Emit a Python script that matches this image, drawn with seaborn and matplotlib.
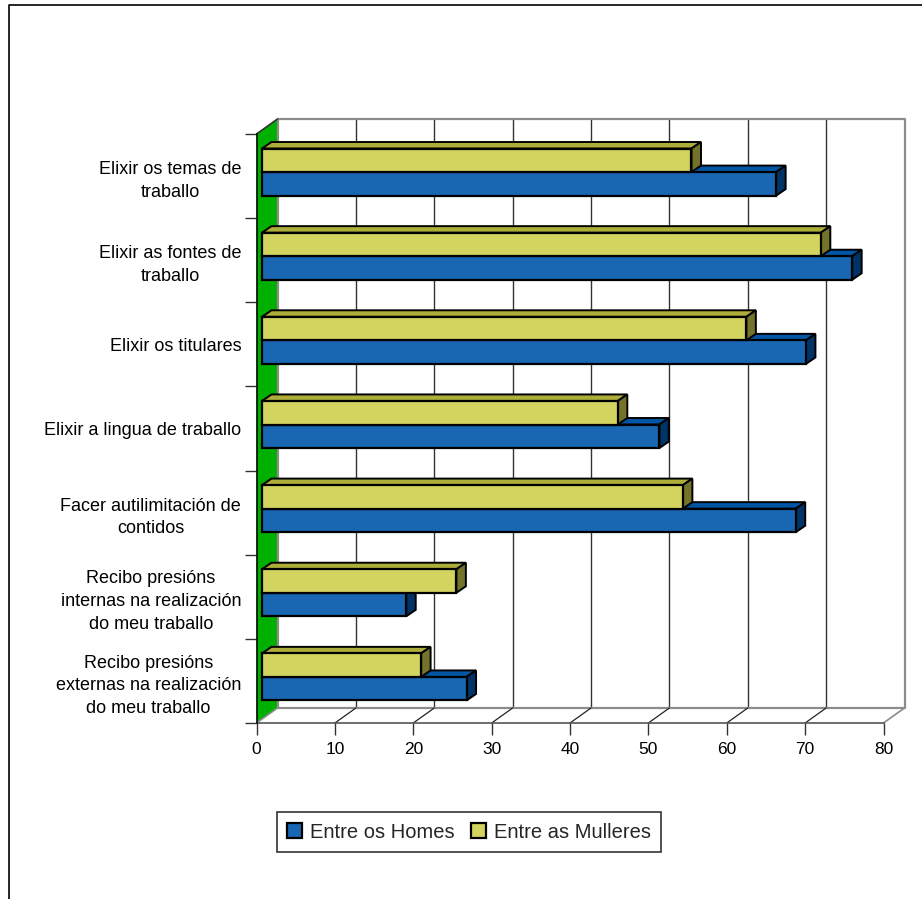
import pandas as pd
import numpy as np
import matplotlib
matplotlib.use("Agg")
import matplotlib.pyplot as plt
import seaborn as sns
from matplotlib.lines import Line2D
from matplotlib.patches import Polygon
from matplotlib.transforms import Affine2D, IdentityTransform

categorias = [
    "Elixir os temas de\ntraballo",
    "Elixir as fontes de\ntraballo",
    "Elixir os titulares",
    "Elixir a lingua de traballo",
    "Facer autilimitación de\ncontidos",
    "Recibo presións\ninternas na realización\ndo meu traballo",
    "Recibo presións\nexternas na realización\ndo meu traballo",
]
homes = [65.6, 75.3, 69.4, 50.7, 68.1, 18.4, 26.1]
mulleres = [54.8, 71.3, 61.8, 45.4, 53.7, 24.8, 20.3]
ticks_x = [0, 10, 20, 30, 40, 50, 60, 70, 80]

df = pd.DataFrame({
    "categoria": categorias * 2,
    "valor": homes + mulleres,
    "serie": ["Entre os Homes"] * 7 + ["Entre as Mulleres"] * 7,
})

sns.set_style("white")
plt.rcParams["font.family"] = ["Liberation Sans", "DejaVu Sans"]

W, H = 922, 899
fig = plt.figure(figsize=(W / 100, H / 100), dpi=100)
ax = fig.add_axes([256.5 / W, 1 - 723 / H, 627 / W, 589 / H])

azul, amarelo = "#0066CC", "#E6E64C"
sns.barplot(data=df, y="categoria", x="valor", hue="serie", order=categorias,
            hue_order=["Entre as Mulleres", "Entre os Homes"],
            palette=[amarelo, azul], width=0.56, edgecolor="black", linewidth=1.6,
            legend=False, ax=ax, zorder=5)
ax.set_xlim(0, 80)
ax.set_ylim(6.5, -0.5)
ax.set_xlabel("")
ax.set_ylabel("")

# profundidade do grafico, en pixels
wall_dx, wall_dy = 21, 15
bar_dx, bar_dy = 5.5, 4
top_dx, top_dy = 9.5, 6.5
back = ax.transData + Affine2D().translate(wall_dx, wall_dy)
px = IdentityTransform()
to_px = ax.transData.transform


def face(pts, color, z, ec="none", lw=0):
    ax.add_patch(Polygon(pts, closed=True, transform=px, facecolor=color, edgecolor=ec,
                         linewidth=lw, zorder=z, clip_on=False))


# parede verde e chan
(x0, y0), (x1, y1) = to_px([(0, 6.5), (80, -0.5)])
face([(x0, y0), (x0 + wall_dx, y0 + wall_dy), (x0 + wall_dx, y1 + wall_dy), (x0, y1)], "#00B000", 1)
ax.vlines(ticks_x[1:-1], -0.5, 6.5, transform=back, color="#333333", lw=1, zorder=2, clip_on=False)
ax.plot([0, 80, 80, 0, 0], [-0.5, -0.5, 6.5, 6.5, -0.5], transform=back, color="#8C8C8C",
        lw=1.6, zorder=2, clip_on=False)
for t in ticks_x[1:-1]:
    xt = to_px((t, 6.5))[0]
    ax.plot([xt, xt + wall_dx], [y0, y0 + wall_dy], transform=px, color="#222222", lw=0.9,
            zorder=2, clip_on=False)
ax.plot([x1, x1 + wall_dx], [y0, y0 + wall_dy], transform=px, color="#8C8C8C", lw=1.2, zorder=2, clip_on=False)
ax.plot([x0, x0 + wall_dx], [y0, y0 + wall_dy], transform=px, color="#8C8C8C", lw=1.2, zorder=2, clip_on=False)
ax.plot([x0, x0 + wall_dx], [y1, y1 + wall_dy], transform=px, color="#333333", lw=1.2, zorder=2, clip_on=False)

# caras de arriba e do lado de cada barra
cores = {0: ("#ADAD39", "#73732A", 6), 1: ("#0055A5", "#003366", 3)}
for i, cont in enumerate(ax.containers):
    cima, lado, z = cores[i]
    for bar in cont:
        a, b = to_px([(bar.get_x(), bar.get_y() + bar.get_height()),
                      (bar.get_x() + bar.get_width(), bar.get_y())])
        xa, ya = a[0] + bar_dx, a[1] + bar_dy
        xb, yb = b[0] + bar_dx, b[1] + bar_dy
        face([(xa, yb), (xa + top_dx, yb + top_dy), (xb + top_dx, yb + top_dy), (xb, yb)],
             cima, z, "black", 1.4)
        face([(xb, ya), (xb + top_dx, ya + top_dy), (xb + top_dx, yb + top_dy), (xb, yb)],
             lado, z, "black", 1.4)
        bar.set_transform(ax.transData + Affine2D().translate(bar_dx, bar_dy))
        bar.set_zorder(z + 0.5)
        bar.set_clip_on(False)

# eixos
ax.set_facecolor("none")
sns.despine(ax=ax, top=True, right=True)
ax.spines["left"].set_color("black")
ax.spines["left"].set_linewidth(1.1)
ax.spines["left"].set_zorder(7)
ax.spines["bottom"].set_color("#555555")
ax.spines["bottom"].set_linewidth(1.2)
ax.set_xticks(ticks_x)
ax.tick_params(axis="x", length=8.5, width=1, color="#333333", labelsize=12.5, pad=5,
               labelcolor="black", bottom=True)
ax.set_yticks(np.arange(-0.5, 7), minor=True)
ax.tick_params(axis="y", which="minor", length=9, width=1, color="#333333", left=True)
ax.tick_params(axis="y", which="major", length=0, pad=11, labelsize=13, labelcolor="black")
for lab in ax.get_yticklabels():
    lab.set_multialignment("center")
    lab.set_linespacing(1.45)

# lenda
cont_m, cont_h = ax.containers[0], ax.containers[1]
leg = ax.legend([cont_h[0], cont_m[0]], ["Entre os Homes", "Entre as Mulleres"], ncol=2,
                loc="center", bbox_to_anchor=(469 / W, 1 - 832 / H), bbox_transform=fig.transFigure,
                frameon=True, fancybox=False, framealpha=1, edgecolor="#333333", fontsize=14.5,
                handlelength=0.75, handleheight=0.75, handletextpad=0.4, columnspacing=0.8,
                borderpad=0.5, borderaxespad=0)
leg.get_frame().set_linewidth(1.2)

# marco exterior do grafico
fig.add_artist(Line2D([9 / W, 9 / W, 1], [0, 1 - 4.5 / H, 1 - 4.5 / H], color="black", lw=1.2))

fig.savefig("out.png", dpi=100, facecolor="white")
